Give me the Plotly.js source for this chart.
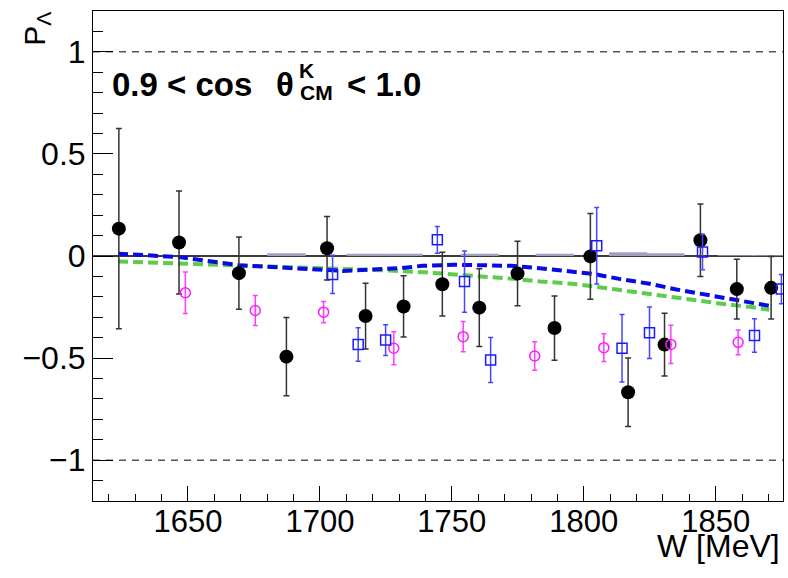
<!DOCTYPE html>
<html>
<head>
<meta charset="utf-8">
<script src="https://cdn.plot.ly/plotly-3.0.1.min.js"></script>
<style>
  html, body { margin: 0; padding: 0; background: #fff; }
  #chart { width: 788px; height: 578px; }
</style>
</head>
<body>
<div id="chart"></div>
<script>
// black points (filled circles)
const blackW = [1623.8, 1646.6, 1669.3, 1687.3, 1702.7, 1717.3, 1731.7, 1746.4, 1760.4,
  1774.9, 1788.9, 1802.5, 1816.8, 1830.6, 1844.2, 1858.0, 1871.0];
const blackP = [0.134, 0.066, -0.084, -0.493, 0.038, -0.294, -0.247, -0.138, -0.253,
  -0.086, -0.353, -0.002, -0.667, -0.434, 0.077, -0.162, -0.156];
const blackErr = [0.49, 0.252, 0.177, 0.192, 0.156, 0.161, 0.15, 0.156, 0.19,
  0.158, 0.157, 0.21, 0.168, 0.154, 0.178, 0.146, 0.153];

// magenta points (open circles)
const magW = [1649.0, 1675.5, 1701.4, 1728.0, 1754.3, 1781.4, 1807.6, 1833.0, 1858.5];
const magP = [-0.18, -0.267, -0.275, -0.452, -0.395, -0.49, -0.449, -0.433, -0.423];
const magErr = [0.102, 0.074, 0.052, 0.081, 0.074, 0.07, 0.068, 0.094, 0.061];

// blue points (open squares)
const blueW = [1704.8, 1714.5, 1724.9, 1744.5, 1754.8, 1764.7, 1804.9, 1814.5, 1824.9,
  1845.0, 1864.7, 1874.9];
const blueP = [-0.09, -0.434, -0.412, 0.079, -0.125, -0.509, 0.05, -0.452, -0.376,
  0.02, -0.389, -0.162];
const blueErr = [0.094, 0.082, 0.075, 0.065, 0.15, 0.11, 0.187, 0.165, 0.126,
  0.087, 0.082, 0.072];

// model curves
const curveBlueW = [1623.5, 1646.5, 1669.3, 1687.3, 1708.6, 1730.2, 1738.9, 1751.0, 1761.6,
  1772.6, 1783.2, 1795.3, 1803.2, 1813.5, 1824.9, 1835.1, 1846.5, 1856.3, 1870.3];
const curveBlueP = [0.011, -0.005, -0.045, -0.06, -0.073, -0.06, -0.048, -0.043, -0.045,
  -0.048, -0.06, -0.075, -0.087, -0.112, -0.136, -0.164, -0.19, -0.214, -0.244];
const curveGreenW = [1623.5, 1646.5, 1669.3, 1687.3, 1708.0, 1726.4, 1738.9, 1751.0, 1762.4,
  1773.7, 1783.6, 1795.6, 1812.4, 1824.9, 1838.1, 1850.6, 1863.4, 1870.3];
const curveGreenP = [-0.027, -0.037, -0.045, -0.052, -0.06, -0.071, -0.079, -0.09, -0.1,
  -0.112, -0.125, -0.136, -0.164, -0.187, -0.21, -0.231, -0.25, -0.263];

// systematic bands at zero
const sysW = [1687.3, 1717.3, 1731.7, 1760.6, 1789.0, 1816.8, 1830.9, 1858.0, 1871.0];
const sysH = [0.014, 0.011, 0.011, 0.011, 0.011, 0.018, 0.013, 0.004, 0.004];

const refLines = [1, -1];
const xTicks = [1650, 1700, 1750, 1800, 1850];

const FONT = "Liberation Sans, Arial, Helvetica, sans-serif";

const traces = [
  {
    type: "bar", x: sysW, y: sysH, width: 14.5,
    marker: { color: "#a0a0c0", line: { width: 0 } },
    hoverinfo: "skip",
  },
  {
    type: "scatter", mode: "lines", x: curveGreenW, y: curveGreenP,
    line: { color: "#5ccc4c", width: 4, dash: "10px,5px" },
  },
  {
    type: "scatter", mode: "lines", x: curveBlueW, y: curveBlueP,
    line: { color: "#0a0ae6", width: 4, dash: "10px,5px" },
  },
  {
    type: "scatter", mode: "markers", x: blackW, y: blackP,
    marker: { symbol: "circle", size: 14, color: "#000" },
    error_y: { type: "data", array: blackErr, color: "#333", thickness: 1.5, width: 3 },
  },
  {
    type: "scatter", mode: "markers", x: magW, y: magP,
    marker: { symbol: "circle-open", size: 10, color: "#ff1aff", line: { width: 1.5 } },
    error_y: { type: "data", array: magErr, color: "#ff3cff", thickness: 1.5, width: 2.5 },
  },
  {
    type: "scatter", mode: "markers", x: blueW, y: blueP,
    marker: { symbol: "square-open", size: 10, color: "#1a1aff", line: { width: 1.5 } },
    error_y: { type: "data", array: blueErr, color: "#4646ff", thickness: 1.5, width: 2.5 },
  },
];

const shapes = refLines.map((v) => ({
  type: "line", xref: "paper", x0: 0, x1: 1, yref: "y", y0: v, y1: v,
  line: { color: "#000", width: 1, dash: "7px,6px" },
  layer: "below",
}));

const boldText = (text, x, y, size, anchor) => ({
  xref: "paper", yref: "paper", x: x, y: y, text: "<b>" + text + "</b>",
  showarrow: false, xanchor: anchor || "left", yanchor: "middle",
  font: { family: FONT, size: size, color: "#000" },
});

const annotations = [
  boldText("0.9 &lt; cos", 0.0246, 0.8506, 33),
  boldText("θ", 0.2623, 0.8506, 33),
  boldText("K", 0.3097, 0.8786, 21, "center"),
  boldText("CM", 0.3239, 0.8327, 21, "center"),
  boldText("&lt; 1.0", 0.3652, 0.8506, 33),
  {
    xref: "paper", yref: "paper", x: 0.9986, y: -0.092, text: "W [MeV]",
    showarrow: false, xanchor: "right", yanchor: "middle",
    font: { family: FONT, size: 32, color: "#000" },
  },
  {
    xref: "paper", yref: "paper", x: -0.083, y: 1.002, text: "P<sub>Λ</sub>",
    showarrow: false, xanchor: "center", yanchor: "top", textangle: -90,
    font: { family: FONT, size: 30, color: "#000" },
  },
];

const layout = {
  width: 788, height: 578,
  margin: { l: 93, r: 5, t: 11, b: 77 },
  paper_bgcolor: "#fff", plot_bgcolor: "#fff",
  showlegend: false,
  font: { family: FONT, color: "#000" },
  xaxis: {
    range: [1614, 1875.5], showgrid: false, zeroline: false,
    showline: true, linecolor: "#000", linewidth: 1, mirror: true,
    ticks: "inside", ticklen: 15, tickwidth: 1, tickcolor: "#000",
    tickvals: xTicks, ticktext: xTicks.map(String),
    ticklabelstandoff: -7,
    tickfont: { family: FONT, size: 31, color: "#000" },
    minor: { dtick: 10, tick0: 1600, ticks: "inside", ticklen: 7, tickcolor: "#000", tickwidth: 1 },
  },
  yaxis: {
    range: [-1.2, 1.2], showgrid: false,
    zeroline: true, zerolinecolor: "#3a3a3a", zerolinewidth: 1.5,
    showline: true, linecolor: "#000", linewidth: 1, mirror: true,
    ticks: "inside", ticklen: 20, tickwidth: 1, tickcolor: "#000",
    dtick: 0.5, tick0: 0,
    tickfont: { family: FONT, size: 32, color: "#000" },
    minor: { dtick: 0.1, tick0: 0, ticks: "inside", ticklen: 10, tickcolor: "#000", tickwidth: 1 },
  },
  shapes: shapes,
  annotations: annotations,
};

Plotly.newPlot("chart", traces, layout, { staticPlot: true, displayModeBar: false });
</script>
</body>
</html>
